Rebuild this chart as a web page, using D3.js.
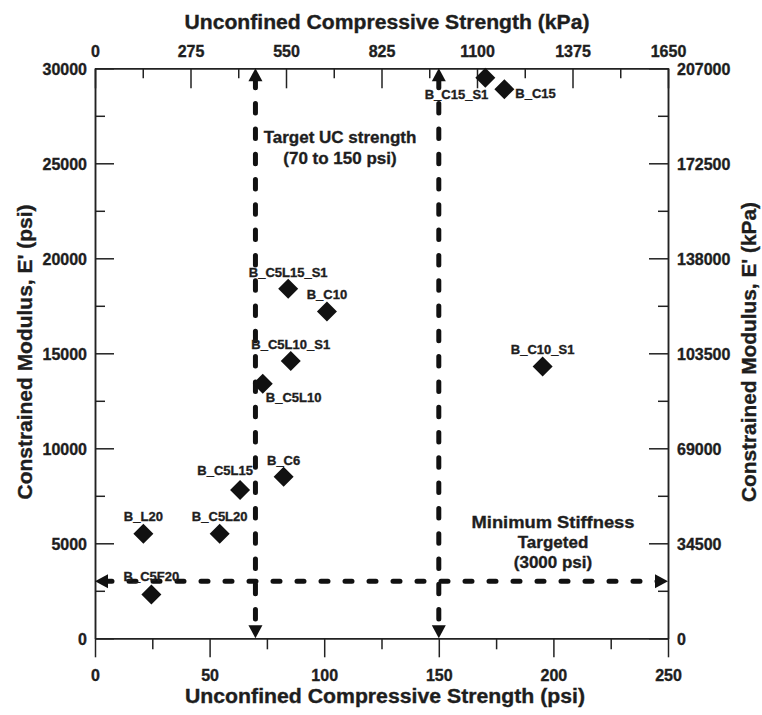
<!DOCTYPE html>
<html><head><meta charset="utf-8">
<script src="https://cdnjs.cloudflare.com/ajax/libs/d3/7.8.5/d3.min.js"></script>
<style>
html,body{margin:0;padding:0;background:#fff;}
svg{display:block;}
text{font-family:"Liberation Sans",Arial,Helvetica,sans-serif;font-weight:bold;fill:#1e1e1e;stroke:#1e1e1e;stroke-width:0.35px;}
</style>
</head><body>
<svg id="chart" width="762" height="715"></svg>
<script>
// ---- data ----
const names = ["B_L20","B_C5L20","B_C5F20","B_C5L15","B_C6","B_C5L10","B_C5L10_S1","B_C5L15_S1","B_C10","B_C10_S1","B_C15_S1","B_C15"];
const ucsPsi = [21.1, 54.4, 24.6, 63.3, 82.3, 73.2, 85.4, 84.3, 101.2, 195.3, 170.3, 178.6];
const modulusPsi = [5500, 5500, 2300, 7800, 8500, 13400, 14600, 18400, 17200, 14300, 29500, 28900];
const ucTargets = [70, 150];
const minStiffness = 3000;
const xTicksPsi = [0,50,100,150,200,250];
const xTicksKPa = [0,275,550,825,1100,1375,1650];
const yTicksPsi = [0,5000,10000,15000,20000,25000,30000];
const yTicksKPa = [0,34500,69000,103500,138000,172500,207000];

// label placement (layout only)
const labelPlace = {
  "B_C5F20":{dx:0,dy:-14,a:"middle"},
  "B_C5L15":{dx:-15,dy:-15,a:"middle"},
  "B_C5L10":{dx:3,dy:18,a:"start"},
  "B_C15_S1":{dx:3,dy:21,a:"end"},
  "B_C15":{dx:11,dy:9,a:"start"},
  "B_C5L10_S1":{dx:0,dy:-12,a:"middle"},
  "B_C5L15_S1":{dx:0,dy:-12,a:"middle"},
  "B_C6":{dx:0,dy:-12,a:"middle"}
};

const svg = d3.select("#chart");
const L=95, R=668, T=68.3, B=638.3;
const x = d3.scaleLinear().domain([0,250]).range([L,R]);
const xK = d3.scaleLinear().domain([0,1650]).range([L,R]);
const y = d3.scaleLinear().domain([0,30000]).range([B,T]);
const yK = d3.scaleLinear().domain([0,207000]).range([B,T]);

function styleAxis(g){
  g.selectAll("path.domain").attr("stroke","#222").attr("stroke-width",1.5);
  g.selectAll(".tick line").attr("stroke","#222").attr("stroke-width",1.5);
  g.selectAll("text").attr("font-size","16px").attr("fill","#1e1e1e").attr("font-family",null);
}

// minor ticks
const minorX = d3.range(25,250,50);
const minorXK = d3.range(137.5,1650,275);
const minorY = d3.range(2500,30000,5000);
const minorYK = d3.range(17250,207000,34500);

svg.append("g").attr("transform",`translate(0,${B})`)
  .call(d3.axisBottom(x).tickValues(minorX).tickSize(11).tickSizeOuter(0).tickFormat(""))
  .call(styleAxis);
svg.append("g").attr("transform",`translate(0,${T})`)
  .call(d3.axisTop(xK).tickValues(minorXK).tickSize(-10).tickSizeOuter(0).tickFormat(""))
  .call(styleAxis);
svg.append("g").attr("transform",`translate(${L},0)`)
  .call(d3.axisLeft(y).tickValues(minorY).tickSize(-10).tickSizeOuter(0).tickFormat(""))
  .call(styleAxis);
svg.append("g").attr("transform",`translate(${R},0)`)
  .call(d3.axisRight(yK).tickValues(minorYK).tickSize(-10).tickSizeOuter(0).tickFormat(""))
  .call(styleAxis);

// major axes
const gB = svg.append("g").attr("transform",`translate(0,${B})`)
  .call(d3.axisBottom(x).tickValues(xTicksPsi).tickSize(19).tickSizeOuter(0).tickFormat(d3.format("d")))
  .call(styleAxis);
gB.selectAll(".tick text").attr("y",43).attr("dy",null);

const gT = svg.append("g").attr("transform",`translate(0,${T})`)
  .call(d3.axisTop(xK).tickValues(xTicksKPa).tickSize(-20).tickSizeOuter(0).tickFormat(d3.format("d")))
  .call(styleAxis);
gT.selectAll(".tick text").attr("y",-11).attr("dy",null);

const gL = svg.append("g").attr("transform",`translate(${L},0)`)
  .call(d3.axisLeft(y).tickValues(yTicksPsi).tickSize(-19).tickSizeOuter(0).tickFormat(d3.format("d")))
  .call(styleAxis);
gL.selectAll(".tick text").attr("x",-8).attr("dy","0.36em");

const gR = svg.append("g").attr("transform",`translate(${R},0)`)
  .call(d3.axisRight(yK).tickValues(yTicksKPa).tickSize(-19).tickSizeOuter(0).tickFormat(d3.format("d")))
  .call(styleAxis);
gR.selectAll(".tick text").attr("x",9).attr("dy","0.36em");

// generic text helper
function addText(parent, str, px, py, size, anchor, len, rot){
  const g = parent.append("g").attr("transform",`translate(${px},${py})`+(rot?` rotate(${rot})`:""));
  const t = g.append("text").attr("x",0).attr("y",0).attr("text-anchor",anchor||"middle")
    .attr("font-size",size+"px").text(str);
  if(len){ t.attr("textLength",len).attr("lengthAdjust","spacingAndGlyphs"); }
  return g;
}

// axis titles
addText(svg,"Unconfined Compressive Strength (kPa)",387,29,20,"middle",405);
addText(svg,"Unconfined Compressive Strength (psi)",385,703,20,"middle",400);
addText(svg,"Constrained Modulus, E' (psi)",32,352,20,"middle",295,-90);
addText(svg,"Constrained Modulus, E' (kPa)",756,352,20,"middle",300,-90);

// target dashed lines
const dashG = svg.append("g");
ucTargets.forEach(v=>{
  dashG.append("line").attr("x1",x(v)).attr("x2",x(v)).attr("y1",y(30000)+10).attr("y2",y(0)-10)
    .attr("stroke","#111").attr("stroke-width",5).attr("stroke-linecap","round").attr("stroke-dasharray","9.5,15.8");
  const cx=x(v);
  dashG.append("path").attr("d",`M${cx},${T} L${cx-7},${T+13} L${cx+7},${T+13} Z`).attr("fill","#111");
  dashG.append("path").attr("d",`M${cx},${B} L${cx-7},${B-13} L${cx+7},${B-13} Z`).attr("fill","#111");
});
const hy = y(minStiffness);
dashG.append("line").attr("x1",x(0)+10).attr("x2",x(250)-10).attr("y1",hy).attr("y2",hy)
  .attr("stroke","#111").attr("stroke-width",5).attr("stroke-linecap","round").attr("stroke-dasharray","7,17");
dashG.append("path").attr("d",`M${L},${hy} L${L+13},${hy-7} L${L+13},${hy+7} Z`).attr("fill","#111");
dashG.append("path").attr("d",`M${R},${hy} L${R-13},${hy-7} L${R-13},${hy+7} Z`).attr("fill","#111");

// points
const pts = names.map((n,i)=>({name:n, u:ucsPsi[i], e:modulusPsi[i]}));
const sym = d3.symbol().type(d3.symbolSquare).size(200);
svg.append("g").selectAll("path").data(pts).join("path")
  .attr("d",sym).attr("fill","#111")
  .attr("transform",d=>`translate(${x(d.u)},${y(d.e)}) rotate(45)`);

// point labels
pts.forEach(d=>{
  const p = labelPlace[d.name] || {dx:0,dy:-13,a:"middle"};
  addText(svg,d.name,x(d.u)+p.dx,y(d.e)+p.dy,13,p.a);
});

// annotations
addText(svg,"Target UC strength",340,143,17,"middle");
addText(svg,"(70 to 150 psi)",340,164,17,"middle");
addText(svg,"Minimum Stiffness",553,528,17,"middle",163);
addText(svg,"Targeted",553,548,17,"middle");
addText(svg,"(3000 psi)",553,568,17,"middle");
</script>
</body></html>
